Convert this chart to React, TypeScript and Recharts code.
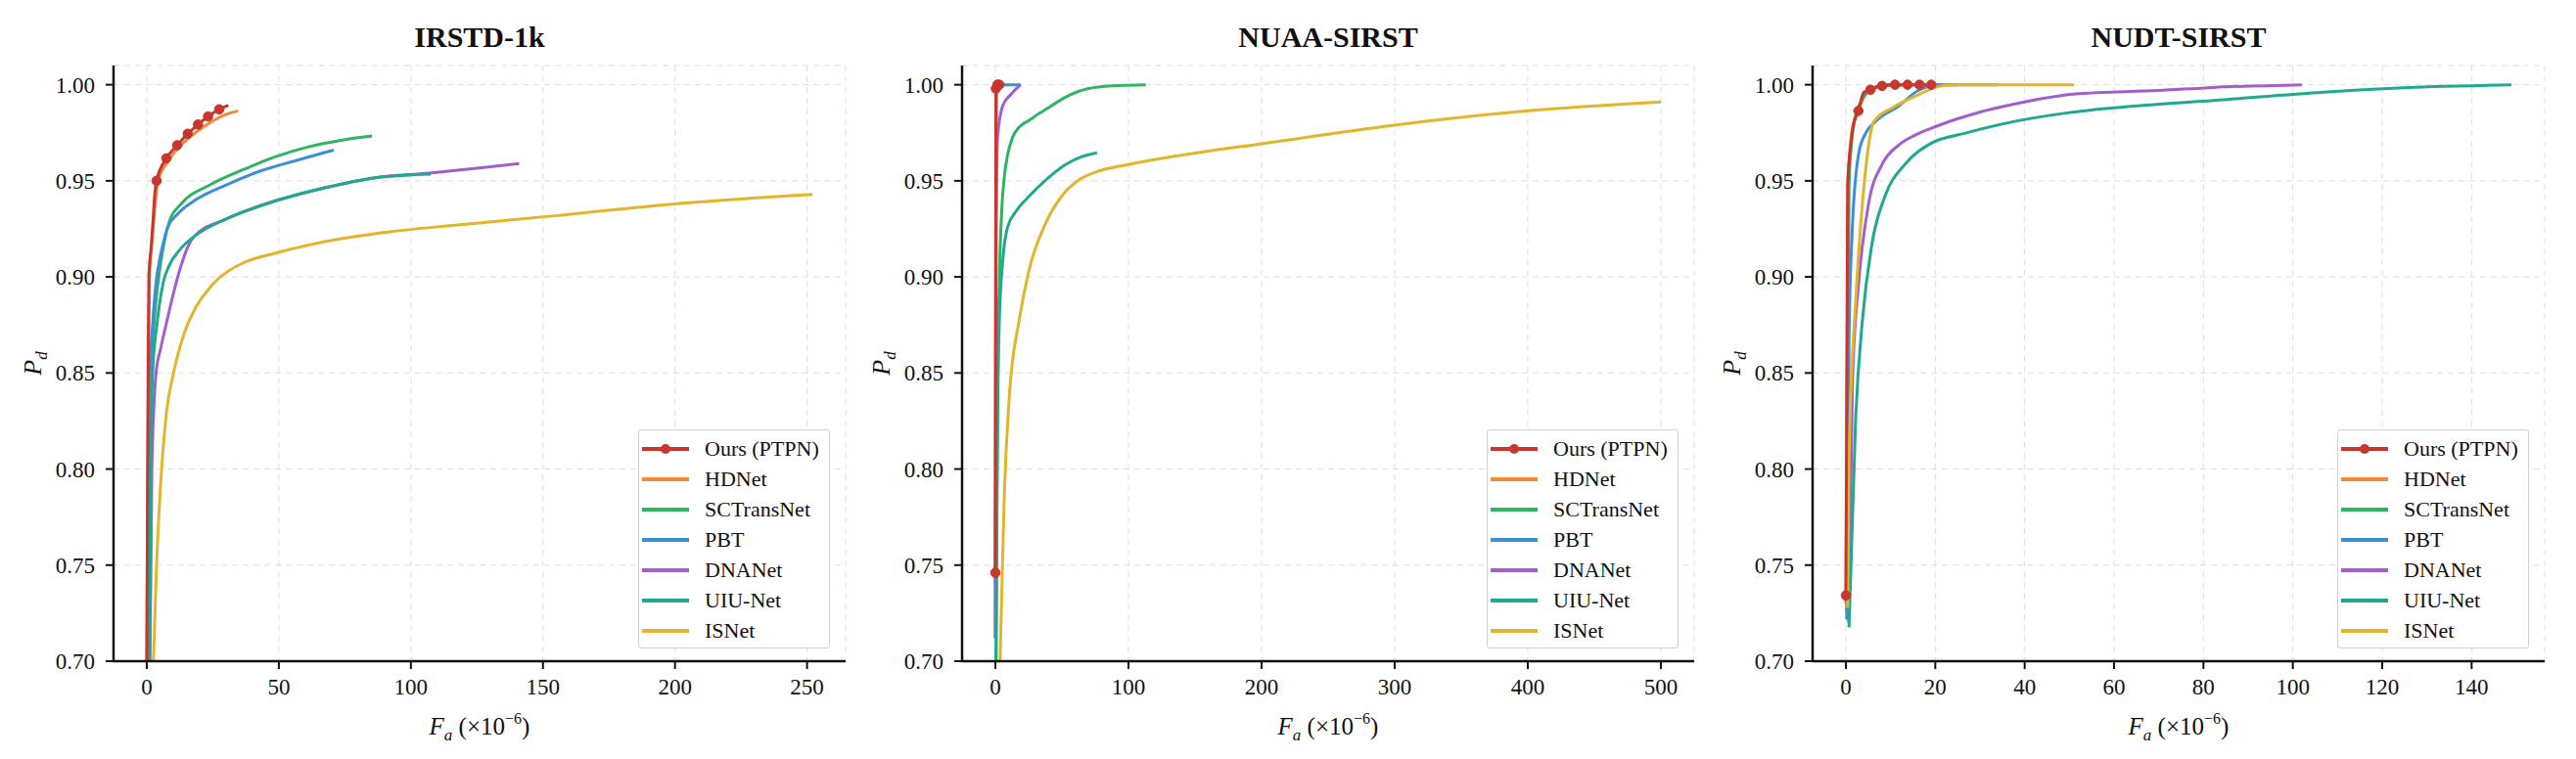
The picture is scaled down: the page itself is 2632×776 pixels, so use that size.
import React from 'react';
import { CartesianGrid, Label, Legend, Line, LineChart, XAxis, YAxis } from 'recharts';

const FONT = '"Liberation Serif", "Times New Roman", Times, serif';

type Pt = [number, number]; // [Fa (x1e-6), Pd]

const seriesNames = ['Ours (PTPN)', 'HDNet', 'SCTransNet', 'PBT', 'DNANet', 'UIU-Net', 'ISNet'];
const seriesColors = ['#c8372d', '#f08c3c', '#2fb463', '#3b8fd6', '#a25fcc', '#1fa98f', '#e3b52b'];

const pdTicks = [0.7, 0.75, 0.8, 0.85, 0.9, 0.95, 1.0];
const pdDomain: [number, number] = [0.7, 1.01];

// ---- IRSTD-1k ----
const irstdTicks = [0, 50, 100, 150, 200, 250];
const irstdOurs: Pt[] = [
  [0, 0.7], [0.3, 0.8], [0.55, 0.86], [0.8, 0.9], [1.6, 0.915], [2.4, 0.93], [2.9, 0.941],
  [3.7, 0.95], [7.4, 0.9617], [11.5, 0.9685], [15.5, 0.9745], [19.4, 0.9793], [23.2, 0.9835],
  [27.4, 0.9872], [30.9, 0.9893],
];
const irstdOursMarks = [7, 8, 9, 10, 11, 12, 13];
const irstdHDNet: Pt[] = [
  [0, 0.7], [0.4, 0.8], [0.7, 0.86], [1.0, 0.9], [2.0, 0.918], [3.0, 0.935], [4.3, 0.95],
  [8.0, 0.96], [11.7, 0.9668], [17.9, 0.9745], [24.1, 0.9804], [30.3, 0.9847], [34.6, 0.9864],
];
const irstdSCTransNet: Pt[] = [
  [0.8, 0.7], [1.2, 0.8], [1.6, 0.85], [3.0, 0.88], [4.5, 0.9], [5.8, 0.912], [7.0, 0.921],
  [8.7, 0.9294], [13.0, 0.938], [24.1, 0.948], [36.5, 0.9558], [48.8, 0.9626], [61.2, 0.9677],
  [73.5, 0.9711], [85.3, 0.9733],
];
const irstdPBT: Pt[] = [
  [0.6, 0.7], [0.9, 0.8], [1.2, 0.85], [2.2, 0.875], [3.5, 0.897], [5.0, 0.91], [6.5, 0.919],
  [8.0, 0.926], [11.7, 0.9328], [17.9, 0.9396], [30.3, 0.948], [42.6, 0.9549], [55.0, 0.96], [70.8, 0.966],
];
const irstdDNANet: Pt[] = [
  [1.2, 0.7], [1.9, 0.8], [3.5, 0.85], [5.3, 0.863], [7.6, 0.877], [10.0, 0.891], [13.0, 0.906],
  [15.5, 0.9155], [17.9, 0.921], [30.3, 0.9303], [48.8, 0.9396], [67.4, 0.9464], [85.9, 0.9515],
  [106.9, 0.954], [125, 0.9565], [141, 0.959],
];
const irstdUIUNet: Pt[] = [
  [1.0, 0.7], [1.5, 0.8], [2.2, 0.85], [4.0, 0.877], [6.2, 0.897], [8.5, 0.906], [12.4, 0.914],
  [17.9, 0.921], [30.3, 0.9303], [48.8, 0.9396], [67.4, 0.9464], [85.9, 0.9515], [107.5, 0.9535],
];
const irstdISNet: Pt[] = [
  [2.5, 0.7], [3.7, 0.75], [5.6, 0.8], [7.4, 0.829], [10.1, 0.85], [12.4, 0.8627], [14.8, 0.873],
  [17.9, 0.8825], [21.6, 0.8905], [26.6, 0.8985], [30.3, 0.9025], [36.5, 0.9073], [48.8, 0.9124],
  [67.4, 0.9184], [92.1, 0.9235], [116.8, 0.9269], [154.6, 0.9318], [200, 0.938], [252, 0.9429],
];

// ---- NUAA-SIRST ----
const nuaaTicks = [0, 100, 200, 300, 400, 500];
const nuaaOurs: Pt[] = [[0, 0.746], [0.4, 0.998], [1.6, 1.0], [3.0, 1.0]];
const nuaaOursMarks = [0, 1, 2, 3];
const nuaaHDNet: Pt[] = [[0, 0.74], [0.5, 0.997], [2, 1.0], [4, 1.0]];
const nuaaSCTransNet: Pt[] = [
  [0.5, 0.7], [1.2, 0.8], [2.2, 0.87], [3.2, 0.905], [4.8, 0.935], [6.7, 0.952], [9.2, 0.9635],
  [13.0, 0.9727], [18.0, 0.978], [25.4, 0.9815], [32.8, 0.985], [42, 0.989], [52.7, 0.9935],
  [70, 0.998], [92.5, 0.9996], [113, 1.0],
];
const nuaaPBT: Pt[] = [[0, 0.712], [0.4, 0.95], [0.8, 0.995], [1.5, 1.0], [19, 1.0]];
const nuaaDNANet: Pt[] = [
  [0, 0.712], [0.5, 0.9], [1.0, 0.95], [1.7, 0.973], [5.5, 0.989], [11.7, 0.995], [19, 1.0],
];
const nuaaUIUNet: Pt[] = [
  [0.5, 0.7], [1.7, 0.827], [3.0, 0.8775], [5.5, 0.908], [9.2, 0.926], [15.4, 0.934], [25.4, 0.942],
  [37.8, 0.9504], [52.7, 0.9585], [65, 0.9626], [76.4, 0.9646],
];
const nuaaISNet: Pt[] = [
  [3.5, 0.7], [6.7, 0.7864], [10.4, 0.837], [17.9, 0.8775], [25.4, 0.9038], [37.8, 0.928],
  [50.2, 0.9423], [62.7, 0.9504], [75, 0.9545], [100, 0.9585], [137, 0.963], [200, 0.9693],
  [300, 0.979], [400, 0.9864], [500, 0.991],
];

// ---- NUDT-SIRST ----
const nudtTicks = [0, 20, 40, 60, 80, 100, 120, 140];
const nudtOurs: Pt[] = [
  [0, 0.7342], [0.4, 0.948], [1.1, 0.969], [1.6, 0.978], [2.8, 0.9864], [4.0, 0.996], [5.5, 0.9974],
  [8.1, 0.9994], [11, 1.0], [13.8, 1.0], [16.5, 1.0], [19.1, 1.0],
];
const nudtOursMarks = [0, 4, 6, 7, 8, 9, 10, 11];
const nudtHDNet: Pt[] = [
  [0, 0.73], [0.5, 0.95], [1.5, 0.978], [3, 0.988], [5, 0.997], [8, 0.9995], [12, 1.0], [20, 1.0],
];
const nudtSCTransNet: Pt[] = [
  [0.2, 0.725], [0.7, 0.948], [1.5, 0.975], [2.9, 0.9889], [4.4, 0.9949], [6.6, 0.999], [8.8, 1.0], [34, 1.0],
];
const nudtPBT: Pt[] = [
  [0.2, 0.7217], [0.7, 0.867], [1.5, 0.928], [2.9, 0.9646], [4.4, 0.9747], [6.6, 0.9808],
  [11.8, 0.9889], [16.2, 0.997], [20.6, 1.0], [25, 1.0],
];
const nudtDNANet: Pt[] = [
  [0.6, 0.72], [1.5, 0.847], [2.9, 0.8978], [5.1, 0.9383], [8.1, 0.9585], [11.8, 0.9686],
  [15.4, 0.9737], [20.6, 0.9787], [30.1, 0.9858], [39.7, 0.9909], [51.4, 0.9952], [69.9, 0.997],
  [82.2, 0.9986], [102, 1.0],
];
const nudtUIUNet: Pt[] = [
  [0.7, 0.7176], [2.2, 0.827], [3.7, 0.8775], [5.9, 0.918], [8.8, 0.9423], [13.2, 0.9585],
  [19.1, 0.9696], [26.5, 0.9747], [37.5, 0.9808], [50, 0.9855], [65, 0.989], [82.2, 0.9918],
  [107, 0.9961], [131.6, 0.999], [148.9, 1.0],
];
const nudtISNet: Pt[] = [
  [0.4, 0.7277], [0.7, 0.8067], [2.2, 0.8877], [3.7, 0.938], [5.1, 0.9686], [6.25, 0.9808],
  [10.3, 0.9879], [15.4, 0.9939], [20.6, 0.999], [23.5, 1.0], [51, 1.0],
];

const panels = [
  {
    title: 'IRSTD-1k', ticks: irstdTicks, marks: irstdOursMarks,
    curves: [irstdOurs, irstdHDNet, irstdSCTransNet, irstdPBT, irstdDNANet, irstdUIUNet, irstdISNet],
  },
  {
    title: 'NUAA-SIRST', ticks: nuaaTicks, marks: nuaaOursMarks,
    curves: [nuaaOurs, nuaaHDNet, nuaaSCTransNet, nuaaPBT, nuaaDNANet, nuaaUIUNet, nuaaISNet],
  },
  {
    title: 'NUDT-SIRST', ticks: nudtTicks, marks: nudtOursMarks,
    curves: [nudtOurs, nudtHDNet, nudtSCTransNet, nudtPBT, nudtDNANet, nudtUIUNet, nudtISNet],
  },
];

const rows = (pts: Pt[]) => pts.map(([fa, pd]) => ({ fa, pd }));

// matplotlib-style 5% x margin
function faDomain(curves: Pt[][]): [number, number] {
  const max = Math.max(...curves.flat().map((p) => p[0]));
  const pad = max * 0.05;
  return [-pad, max + pad];
}

const CHART_W = 877;
const CHART_H = 776;
const panelLeft = [0, 867, 1736];

function LegendBox() {
  return (
    <div
      style={{
        boxSizing: 'border-box',
        width: 196,
        height: 224,
        border: '1.5px solid #d2d2d2',
        borderRadius: 3,
        background: 'rgba(255,255,255,0.9)',
        paddingTop: 3,
        fontFamily: FONT,
      }}
    >
      {seriesNames.map((name, i) => (
        <div key={name} style={{ display: 'flex', alignItems: 'center', height: 31.1 }}>
          <svg width={52} height={14} style={{ marginLeft: 2, flex: 'none' }}>
            <line x1={1} x2={49} y1={7} y2={7} stroke={seriesColors[i]} strokeWidth={4} />
            {i === 0 && <circle cx={25} cy={7} r={5} fill={seriesColors[0]} />}
          </svg>
          <span style={{ marginLeft: 13, fontSize: 22, color: '#111', lineHeight: 1, whiteSpace: 'nowrap' }}>
            {name}
          </span>
        </div>
      ))}
    </div>
  );
}

const XLabel = (props: any) => {
  const { x, y, width } = props.viewBox;
  return (
    <text x={x + width / 2} y={y + 75} textAnchor="middle" fontFamily={FONT} fontSize={25} fill="#111">
      <tspan fontStyle="italic">F</tspan>
      <tspan fontStyle="italic" fontSize={17} dy={6}>a</tspan>
      <tspan dy={-6}> (×10</tspan>
      <tspan fontSize={16} dy={-11}>−6</tspan>
      <tspan dy={11}>)</tspan>
    </text>
  );
};

const YLabel = (props: any) => {
  const { x, y, height } = props.viewBox;
  const cx = x + 6;
  const cy = y + height / 2;
  return (
    <text
      x={cx}
      y={cy}
      transform={`rotate(-90, ${cx}, ${cy})`}
      textAnchor="middle"
      fontFamily={FONT}
      fontSize={26}
      fontStyle="italic"
      fill="#111"
    >
      <tspan>P</tspan>
      <tspan fontSize={17} dy={6}>d</tspan>
    </text>
  );
};

const markerDot = (marks: number[]) => (props: any) => {
  const { cx, cy, index } = props;
  if (!marks.includes(index) || cx == null || cy == null) return <g key={`m${index}`} />;
  return <circle key={`m${index}`} cx={cx} cy={cy} r={4.8} fill={seriesColors[0]} stroke={seriesColors[0]} strokeWidth={1} />;
};

function Panel({ idx }: { idx: number }) {
  const p = panels[idx];
  const dom = faDomain(p.curves);
  const order = [1, 2, 3, 4, 5, 6, 0];
  return (
    <div style={{ position: 'absolute', left: panelLeft[idx], top: 0, width: CHART_W, height: CHART_H }}>
      <div
        style={{
          position: 'absolute',
          left: 116,
          width: 748,
          top: 23,
          textAlign: 'center',
          fontFamily: FONT,
          fontWeight: 'bold',
          fontSize: 30,
          lineHeight: '30px',
          color: '#111',
        }}
      >
        {p.title}
      </div>
      <LineChart width={CHART_W} height={CHART_H} margin={{ top: 67, right: 13, bottom: 10, left: 36 }}>
        <CartesianGrid strokeDasharray="6 5" stroke="#dedede" strokeWidth={1} />
        <XAxis
          type="number"
          dataKey="fa"
          domain={dom}
          ticks={p.ticks}
          interval={0}
          allowDataOverflow
          height={90}
          tickSize={8}
          tickMargin={10}
          tick={{ fontSize: 23, fill: '#111', fontFamily: FONT }}
          axisLine={{ stroke: '#111', strokeWidth: 2.5 }}
          tickLine={{ stroke: '#111', strokeWidth: 2 }}
        >
          <Label content={XLabel} />
        </XAxis>
        <YAxis
          type="number"
          domain={pdDomain}
          ticks={pdTicks}
          interval={0}
          allowDataOverflow
          width={80}
          tickSize={8}
          tickMargin={11}
          tickFormatter={(v: number) => v.toFixed(2)}
          tick={{ fontSize: 23, fill: '#111', fontFamily: FONT }}
          axisLine={{ stroke: '#111', strokeWidth: 2.5 }}
          tickLine={{ stroke: '#111', strokeWidth: 2 }}
        >
          <Label content={YLabel} />
        </YAxis>
        <Legend
          layout="vertical"
          align="center"
          verticalAlign="middle"
          content={<LegendBox />}
          wrapperStyle={{ left: 652, top: 439, width: 196, height: 224, bottom: 'auto', right: 'auto' }}
        />
        {order.map((i) => (
          <Line
            key={seriesNames[i]}
            name={seriesNames[i]}
            data={rows(p.curves[i])}
            dataKey="pd"
            type="monotone"
            stroke={seriesColors[i]}
            strokeWidth={3}
            dot={i === 0 ? markerDot(p.marks) : false}
            activeDot={false}
            isAnimationActive={false}
          />
        ))}
      </LineChart>
    </div>
  );
}

export default function App() {
  return (
    <div style={{ position: 'absolute', left: 0, top: 0, width: 2632, height: 776, background: '#fff' }}>
      {panels.map((_, i) => (
        <Panel key={i} idx={i} />
      ))}
    </div>
  );
}
